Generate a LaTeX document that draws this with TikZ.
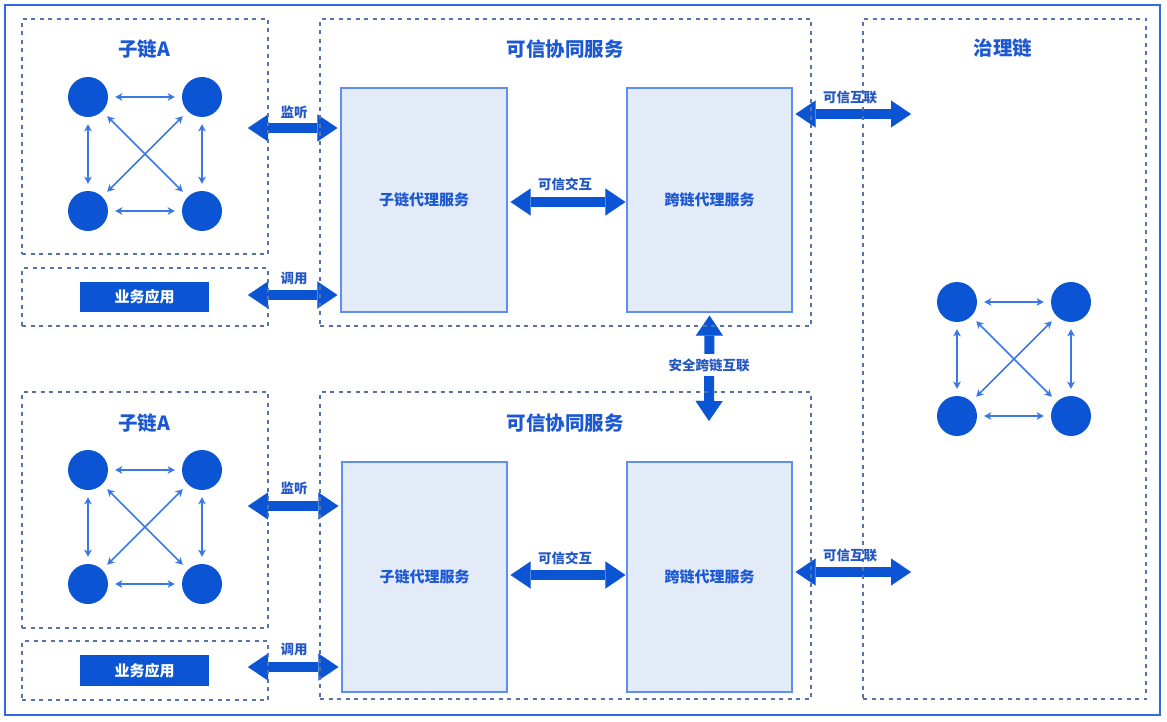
\documentclass[tikz,border=0pt]{standalone}
\usepackage{fontspec}
\setmainfont{Noto Sans CJK SC}
\usetikzlibrary{arrows.meta}
\definecolor{dblue}{HTML}{0B55D4}
\definecolor{tblue}{HTML}{1C58D2}
\definecolor{lblue}{HTML}{2357C4}
\definecolor{dashc}{HTML}{5573AA}
\definecolor{lfill}{HTML}{E4EBF8}
\definecolor{lborder}{HTML}{5E8FEE}
\definecolor{sarrow}{HTML}{3A78E6}
\definecolor{outerc}{HTML}{2F6BDF}
\begin{document}
\begin{tikzpicture}[x=1pt,y=-1pt,
  dbox/.style={draw=dashc, line width=1.1pt, dash pattern=on 4pt off 4.5pt, inner sep=0pt},
  lbox/.style={draw=lborder, fill=lfill, line width=1.2pt, inner sep=0pt, text=tblue, font=\fontsize{15}{15}\selectfont\bfseries},
  appbox/.style={fill=dblue, inner sep=0pt, minimum width=129pt, text=white, font=\fontsize{15}{15}\selectfont\bfseries},
  ttl/.style={text=tblue, font=\fontsize{19.5}{20}\selectfont\bfseries},
  lbl/.style={text=lblue, font=\fontsize{13.5}{14}\selectfont\bfseries, inner sep=2pt},
  dot/.style={circle, fill=dblue, minimum size=40pt, inner sep=0pt},
  sar/.style={draw=sarrow, line width=1.5pt, {Stealth[length=7pt,width=7.5pt,inset=1.8pt]}-{Stealth[length=7pt,width=7.5pt,inset=1.8pt]}, shorten <=7pt, shorten >=7pt},
  big/.style={draw=dblue, line width=10pt, {Triangle[length=20pt,width=27pt,line width=0.01pt]}-{Triangle[length=20pt,width=27pt,line width=0.01pt]}}
]
\useasboundingbox (0,0) rectangle (1167,722);
\draw[outerc, line width=1.5pt] (5,5) rectangle (1160,715);

% light boxes and app boxes
\node[lbox, minimum width=166pt, minimum height=224pt] (proxyA) at (424,200) {子链代理服务};
\node[lbox, minimum width=165pt, minimum height=224pt] (crossA) at (709.5,200) {跨链代理服务};
\node[lbox, minimum width=165pt, minimum height=230pt] (proxyB) at (424.5,577) {子链代理服务};
\node[lbox, minimum width=165pt, minimum height=230pt] (crossB) at (709.5,577) {跨链代理服务};
\node[appbox, minimum height=30pt] (bizA) at (144.5,297) {业务应用};
\node[appbox, minimum height=31pt] (bizB) at (144.5,670.5) {业务应用};

% coordinates for free ends
\coordinate (lAs) at (248,128);
\coordinate (cAs) at (248,295);
\coordinate (tAe) at (911,114);
\coordinate (secE) at (709,421);
\coordinate (lBs) at (248,506);
\coordinate (cBs) at (248,667);
\coordinate (tBe) at (911,572);

% big arrows
\draw[big, shorten >=3pt] (lAs) -- (lAs -| proxyA.west);
\draw[big, shorten >=3pt] (cAs) -- (cAs -| proxyA.west);
\draw[big, shorten <=3pt, shorten >=1pt] (proxyA.east |- 0,202) -- (crossA.west |- 0,202);
\draw[big, shorten <=3pt] (crossA.east |- tAe) -- (tAe);
\draw[big, shorten <=3pt] (crossA.south) -- (secE);
\draw[big, shorten >=3pt] (lBs) -- (lBs -| proxyB.west);
\draw[big, shorten >=3pt] (cBs) -- (cBs -| proxyB.west);
\draw[big, shorten <=3pt, shorten >=1pt] (proxyB.east |- 0,575) -- (crossB.west |- 0,575);
\draw[big, shorten <=3pt] (crossB.east |- tBe) -- (tBe);

% dashed group boxes
\node[dbox, minimum width=246pt, minimum height=235pt] (chainA) at (145,136.5) {};
\node[dbox, minimum width=246pt, minimum height=58pt] (appA) at (145,297) {};
\node[dbox, minimum width=491pt, minimum height=307pt] (trustA) at (565.5,172.5) {};
\node[dbox, minimum width=283pt, minimum height=680pt] (gov) at (1004.5,359) {};
\node[dbox, minimum width=246pt, minimum height=236pt] (chainB) at (145,510) {};
\node[dbox, minimum width=246pt, minimum height=59pt] (appB) at (145,670.5) {};
\node[dbox, minimum width=491pt, minimum height=307pt] (trustB) at (565.5,545.5) {};

% titles
\node[ttl] (tchainA) at (144,49) {子链A};
\node[ttl] (ttrustA) at (565,49) {可信协同服务};
\node[ttl] (tgov) at (1003,48) {治理链};
\node[ttl] (tchainB) at (144,423) {子链A};
\node[ttl] (ttrustB) at (565,423) {可信协同服务};

% labels
\node[lbl] (llA) at (294,112) {监听};
\node[lbl] (lcA) at (294,278) {调用};
\node[lbl] (liA) at (565,184) {可信交互};
\node[lbl] (ltA) at (850,97) {可信互联};
\node[lbl, fill=white, inner sep=4pt] (lsec) at (709,365) {安全跨链互联};
\node[lbl] (llB) at (294,488) {监听};
\node[lbl] (lcB) at (294,649) {调用};
\node[lbl] (liB) at (565,558) {可信交互};
\node[lbl] (ltB) at (850,555) {可信互联};

% node clusters
\foreach \p/\cx/\cy in {a/88/97, b/88/470, g/957/302}{
  \node[dot] (\p1) at (\cx,\cy) {};
  \node[dot] (\p2) at (\cx+114,\cy) {};
  \node[dot] (\p3) at (\cx,\cy+114) {};
  \node[dot] (\p4) at (\cx+114,\cy+114) {};
  \draw[sar] (\p1) -- (\p2);
  \draw[sar] (\p3) -- (\p4);
  \draw[sar] (\p1) -- (\p3);
  \draw[sar] (\p2) -- (\p4);
  \draw[sar] (\p1) -- (\p4);
  \draw[sar] (\p2) -- (\p3);
}
\end{tikzpicture}
\end{document}
